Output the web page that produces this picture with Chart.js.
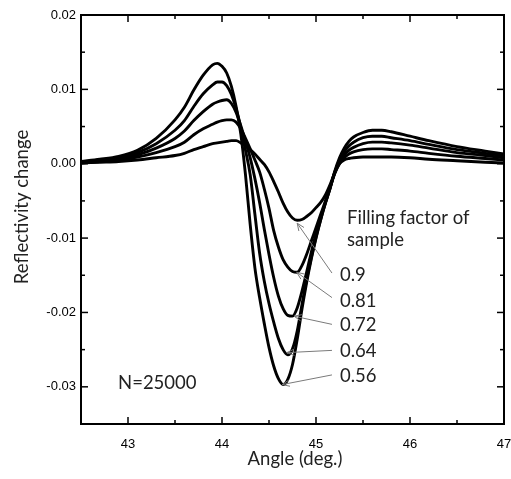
<!DOCTYPE html>
<html>
<head>
<meta charset="utf-8">
<script src="https://cdn.jsdelivr.net/npm/chart.js@4/dist/chart.umd.min.js"></script>
<style>
html,body{margin:0;padding:0;background:#fff;}
canvas{display:block;}
</style>
</head>
<body>
<canvas id="c" width="511" height="479"></canvas>
<script>
// ---- data ----
const angles = [42.5, 42.7, 42.9, 43.1, 43.3, 43.5, 43.6, 43.7, 43.8, 43.9,
  43.95, 44.0, 44.05, 44.1, 44.15, 44.2, 44.25, 44.3, 44.35, 44.4,
  44.45, 44.5, 44.55, 44.6, 44.65, 44.7, 44.75, 44.8, 44.85, 44.9,
  44.95, 45.0, 45.05, 45.1, 45.15, 45.2, 45.25, 45.3, 45.35, 45.4,
  45.5, 45.6, 45.7, 45.8, 46.0, 46.2, 46.5, 46.8, 47.0];

const ff056 = [0.0003, 0.0006, 0.0010, 0.0018, 0.0034, 0.0059, 0.0076, 0.0099, 0.0119, 0.0133,
  0.0135, 0.0131, 0.0122, 0.0104, 0.0077, 0.0040, -0.0015, -0.0082, -0.0140, -0.0180,
  -0.0215, -0.0247, -0.0272, -0.0289, -0.0297, -0.0290, -0.0270, -0.0236, -0.0196, -0.0160,
  -0.0128, -0.0100, -0.0075, -0.0053, -0.0033, -0.0010, 0.0008, 0.0021, 0.0030, 0.0036,
  0.0042, 0.0045, 0.0045, 0.0043, 0.0037, 0.0031, 0.0023, 0.0017, 0.0013];

const ff064 = [0.0002, 0.0005, 0.0008, 0.0015, 0.0027, 0.0045, 0.0058, 0.0077, 0.0094, 0.0106,
  0.0110, 0.0110, 0.0105, 0.0093, 0.0074, 0.0049, 0.0018, -0.0015, -0.0068, -0.0120,
  -0.0158, -0.0188, -0.0213, -0.0235, -0.0250, -0.0257, -0.0249, -0.0225, -0.0190, -0.0156,
  -0.0126, -0.0099, -0.0075, -0.0053, -0.0033, -0.0011, 0.0005, 0.0016, 0.0024, 0.0029,
  0.0035, 0.0037, 0.0037, 0.0035, 0.0031, 0.0026, 0.0019, 0.0014, 0.0011];

const ff072 = [0.0002, 0.0004, 0.0007, 0.0012, 0.0021, 0.0034, 0.0044, 0.0058, 0.0070, 0.0080,
  0.0083, 0.0085, 0.0086, 0.0081, 0.0069, 0.0051, 0.0030, 0.0008, -0.0020, -0.0052,
  -0.0088, -0.0122, -0.0153, -0.0178, -0.0195, -0.0204, -0.0205, -0.0194, -0.0172, -0.0146,
  -0.0119, -0.0094, -0.0072, -0.0052, -0.0032, -0.0012, 0.0003, 0.0012, 0.0018, 0.0022,
  0.0027, 0.0029, 0.0029, 0.0028, 0.0025, 0.0021, 0.0015, 0.0011, 0.0008];

const ff081 = [0.0001, 0.0003, 0.0005, 0.0009, 0.0015, 0.0023, 0.0029, 0.0039, 0.0047, 0.0053,
  0.0056, 0.0058, 0.0059, 0.0059, 0.0056, 0.0047, 0.0034, 0.0020, 0.0005, -0.0011,
  -0.0034, -0.0060, -0.0090, -0.0112, -0.0129, -0.0139, -0.0145, -0.0146, -0.0137, -0.0122,
  -0.0104, -0.0086, -0.0068, -0.0050, -0.0031, -0.0013, 0.0000, 0.0008, 0.0013, 0.0016,
  0.0019, 0.0020, 0.0020, 0.0019, 0.0017, 0.0014, 0.0010, 0.0007, 0.0005];

const ff090 = [0.0001, 0.0002, 0.0003, 0.0005, 0.0008, 0.0011, 0.0014, 0.0019, 0.0023, 0.0027,
  0.0028, 0.0029, 0.0030, 0.0031, 0.0031, 0.0028, 0.0024, 0.0019, 0.0013, 0.0006,
  -0.0001, -0.0011, -0.0024, -0.0038, -0.0053, -0.0065, -0.0073, -0.0076, -0.0075, -0.0071,
  -0.0066, -0.0059, -0.0052, -0.0042, -0.0028, -0.0012, 0.0000, 0.0005, 0.0007, 0.0008,
  0.0009, 0.0009, 0.0009, 0.0009, 0.0008, 0.0006, 0.0004, 0.0002, 0.0001];

const seriesNames = ['0.56', '0.64', '0.72', '0.81', '0.9'];
const seriesValues = [ff056, ff064, ff072, ff081, ff090];

const xTickValues = [42.5, 43, 43.5, 44, 44.5, 45, 45.5, 46, 46.5, 47];
const xTickLabels = ['', '43', '', '44', '', '45', '', '46', '', '47'];
const yTickValues = [-0.035, -0.03, -0.025, -0.02, -0.015, -0.01, -0.005, 0, 0.005, 0.01, 0.015, 0.02];
const yTickLabels = ['', '-0.03', '', '-0.02', '', '-0.01', '', '0.00', '', '0.01', '', '0.02'];

const xTitle = 'Angle (deg.)';
const yTitle = 'Reflectivity change';
const noteTitle = ['Filling factor of', 'sample'];
const noteN = 'N=25000';

// annotation placement (data units)
const labelNames = ['0.9', '0.81', '0.72', '0.64', '0.56'];
const labelAnchorX = 45.255;
const labelAnchorY = [-0.0158, -0.0192, -0.0225, -0.0260, -0.0293];
const arrowFromX = 45.17;
const arrowFromY = [-0.0147, -0.0180, -0.0216, -0.0251, -0.0284];
const arrowToX = [44.80, 44.795, 44.766, 44.69, 44.64];
const arrowToY = [-0.0080, -0.0146, -0.0205, -0.0254, -0.0297];

const TEXT_FONT = 'Lato, "Open Sans", sans-serif';
const TEXT_SIZE = 18.5;

const datasets = seriesNames.map((n, i) => ({
  label: n,
  data: angles.map((a, j) => ({x: a, y: seriesValues[i][j]})),
  borderColor: '#000',
  borderWidth: 2.9,
  pointRadius: 0,
  fill: false,
  cubicInterpolationMode: 'monotone'
}));

const decor = {
  id: 'decor',
  afterDatasetsDraw(chart) {
    const {ctx, chartArea: a, scales: {x, y}} = chart;
    ctx.save();
    ctx.strokeStyle = '#000';
    ctx.lineWidth = 1.5;
    const seg = (x1, y1, x2, y2) => { ctx.beginPath(); ctx.moveTo(x1, y1); ctx.lineTo(x2, y2); ctx.stroke(); };
    xTickValues.forEach((v, i) => {
      const px = x.getPixelForValue(v);
      const L = xTickLabels[i] ? 7 : 4;
      seg(px, a.bottom, px, a.bottom - L);
      seg(px, a.top, px, a.top + L);
    });
    yTickValues.forEach((v, i) => {
      const py = y.getPixelForValue(v);
      const L = yTickLabels[i] ? 7 : 4;
      seg(a.left, py, a.left + L, py);
      seg(a.right, py, a.right - L, py);
    });
    ctx.lineWidth = 2;
    ctx.strokeRect(a.left, a.top, a.right - a.left, a.bottom - a.top);

    // arrows
    ctx.strokeStyle = '#7a7a7a';
    ctx.lineWidth = 1;
    labelNames.forEach((n, i) => {
      const x1 = x.getPixelForValue(arrowFromX), y1 = y.getPixelForValue(arrowFromY[i]);
      const x2 = x.getPixelForValue(arrowToX[i]), y2 = y.getPixelForValue(arrowToY[i]);
      seg(x1, y1, x2, y2);
      const ang = Math.atan2(y1 - y2, x1 - x2);
      const hl = 8, ha = 0.4;
      seg(x2, y2, x2 + hl * Math.cos(ang + ha), y2 + hl * Math.sin(ang + ha));
      seg(x2, y2, x2 + hl * Math.cos(ang - ha), y2 + hl * Math.sin(ang - ha));
    });

    // texts
    ctx.fillStyle = '#222';
    ctx.font = TEXT_SIZE + 'px ' + TEXT_FONT;
    ctx.textBaseline = 'alphabetic';
    ctx.textAlign = 'left';
    labelNames.forEach((n, i) => {
      ctx.fillText(n, x.getPixelForValue(labelAnchorX), y.getPixelForValue(labelAnchorY[i]));
    });
    ctx.fillText(noteTitle[0], x.getPixelForValue(45.33), y.getPixelForValue(-0.0081));
    ctx.fillText(noteTitle[1], x.getPixelForValue(45.33), y.getPixelForValue(-0.0111));
    ctx.fillText(noteN, x.getPixelForValue(42.894), y.getPixelForValue(-0.0303));

    // axis titles
    ctx.textAlign = 'center';
    ctx.fillText(xTitle, 295, 465);
    ctx.save();
    ctx.translate(28, 207);
    ctx.rotate(-Math.PI / 2);
    ctx.fillText(yTitle, 0, 0);
    ctx.restore();
    ctx.restore();
  }
};

new Chart(document.getElementById('c'), {
  type: 'line',
  data: {datasets},
  options: {
    responsive: false,
    animation: false,
    devicePixelRatio: 1,
    layout: {padding: {top: 15, right: 7, left: 0, bottom: 0}},
    plugins: {legend: {display: false}, tooltip: {enabled: false}, title: {display: false}},
    scales: {
      x: {
        type: 'linear', min: 42.5, max: 47,
        grid: {display: false, drawTicks: false, tickLength: 0}, border: {display: false},
        afterBuildTicks: s => { s.ticks = xTickValues.map(v => ({value: v})); },
        afterFit: s => { s.height = 55; s.paddingLeft = 0; s.paddingRight = 0; },
        ticks: {
          autoSkip: false, maxRotation: 0, minRotation: 0, padding: 13, color: '#000',
          font: {family: '"Liberation Sans", Arial, sans-serif', size: 13},
          callback: (v, i) => xTickLabels[i]
        }
      },
      y: {
        type: 'linear', min: -0.035, max: 0.02,
        grid: {display: false, drawTicks: false, tickLength: 0}, border: {display: false},
        afterBuildTicks: s => { s.ticks = yTickValues.map(v => ({value: v})); },
        afterFit: s => { s.width = 81; s.paddingTop = 0; s.paddingBottom = 0; },
        ticks: {
          autoSkip: false, padding: 5, color: '#000',
          font: {family: '"Liberation Sans", Arial, sans-serif', size: 13},
          callback: (v, i) => yTickLabels[i]
        }
      }
    }
  },
  plugins: [decor]
});
</script>
</body>
</html>
